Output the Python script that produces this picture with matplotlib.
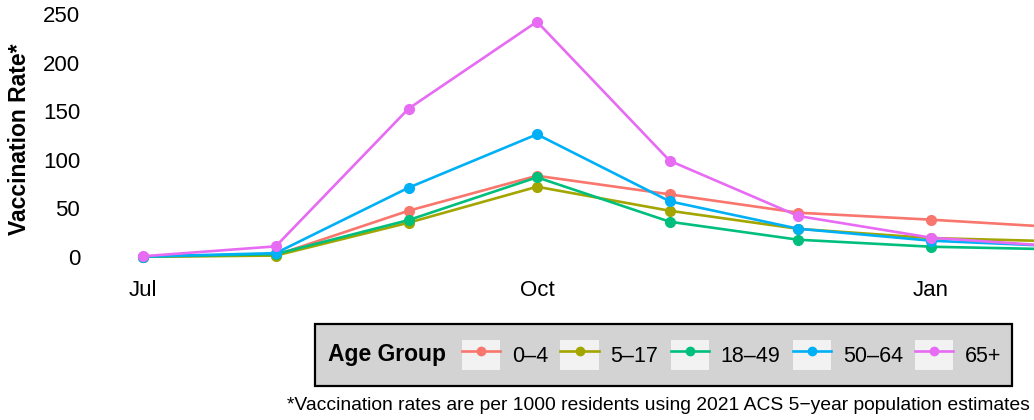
import numpy as np
import matplotlib
matplotlib.use('Agg')
import matplotlib.pyplot as plt
import matplotlib.dates as mdates
from matplotlib.lines import Line2D
from matplotlib.patches import Rectangle
from matplotlib.legend_handler import HandlerTuple
import datetime as dt

plt.rcParams['font.family'] = ['Liberation Sans', 'DejaVu Sans']

# monthly vaccination rates per 1000 residents
months = ['2023-07-01', '2023-08-01', '2023-09-01', '2023-10-01',
          '2023-11-01', '2023-12-01', '2024-01-01', '2024-02-01']
age_groups = ['0\u20134', '5\u201317', '18\u201349', '50\u201364', '65+']
rate_0_4 = [0.5, 2.0, 47.6, 83.6, 64.5, 45.6, 38.4, 30.3]
rate_5_17 = [0.3, 1.5, 35.3, 72.3, 47.6, 29.0, 19.5, 16.0]
rate_18_49 = [0.4, 3.0, 38.0, 82.0, 36.3, 17.8, 10.6, 7.8]
rate_50_64 = [0.5, 4.0, 71.3, 126.2, 57.3, 29.1, 16.8, 11.0]
rate_65_plus = [0.8, 11.0, 152.6, 242.1, 99.0, 42.2, 19.9, 10.6]
series = [rate_0_4, rate_5_17, rate_18_49, rate_50_64, rate_65_plus]
colors = ['#F8766D', '#A3A500', '#00BF7D', '#00B0F6', '#E76BF3']

tick_dates = ['2023-07-01', '2023-10-01', '2024-01-01']
tick_labels = ['Jul', 'Oct', 'Jan']
y_ticks = [0, 50, 100, 150, 200, 250]

W, H = 1034, 420
fig = plt.figure(figsize=(W / 100, H / 100), dpi=100)

# panel placement in pixels
px_left, px_right, px_top, px_bottom = 85, 1034, 10.1, 268.7
ax = fig.add_axes([px_left / W, 1 - px_bottom / H,
                   (px_right - px_left) / W, (px_bottom - px_top) / H])

x = mdates.date2num([dt.date.fromisoformat(m) for m in months])
for vals, c in zip(series, colors):
    ax.plot(x, vals, color=c, lw=1.9, solid_capstyle='butt', zorder=2)
for vals, c in zip(series, colors):
    ax.plot(x, vals, 'o', color=c, ms=7, zorder=3)

jul1 = mdates.date2num(dt.date(2023, 7, 1))
ax.set_xlim(jul1 - 13.54, jul1 + 92 + 116.05)
ax.set_ylim(-12, 254)

ax.set_xticks(mdates.date2num([dt.date.fromisoformat(d) for d in tick_dates]))
ax.set_xticklabels(tick_labels)
ax.set_yticks(y_ticks)
ax.set_yticklabels([str(v) for v in y_ticks])
ax.tick_params(axis='both', length=0, labelsize=16, colors='black')
ax.tick_params(axis='x', pad=8)
ax.tick_params(axis='y', pad=3.5)
for s in ax.spines.values():
    s.set_visible(False)

fig.text(20 / W, 1 - 139.5 / H, 'Vaccination Rate*', rotation=90,
         ha='center', va='center', fontsize=16.5, fontweight='bold')

# legend box
box = Rectangle((315 / W, 1 - 386 / H), (1012 - 315) / W, (386 - 324) / H,
                transform=fig.transFigure, facecolor='#d3d3d3',
                edgecolor='black', lw=1.6, zorder=0)
fig.patches.append(box)
fig.text(328 / W, 1 - 355 / H, 'Age Group', ha='left', va='center',
         fontsize=16.5, fontweight='bold')

handles = []
for c in colors:
    bg = Rectangle((0, 0), 1, 1, facecolor='#f2f2f2', edgecolor='none')
    ln = Line2D([], [], color=c, lw=1.9, marker='o', ms=6)
    handles.append((bg, ln))
fig.legend(handles, age_groups, handler_map={tuple: HandlerTuple(ndivide=1, pad=0)},
           loc='center left', bbox_to_anchor=(462 / W, 1 - 355 / H),
           ncol=5, frameon=False, fontsize=15.5, borderpad=0, borderaxespad=0,
           handlelength=1.77, handleheight=1.77, handletextpad=0.56,
           columnspacing=0.56)

fig.text(1030 / W, 1 - 405 / H,
         '*Vaccination rates are per 1000 residents using 2021 ACS 5\u2212year population estimates',
         ha='right', va='center', fontsize=13.85)

fig.savefig('out.png', dpi=100)
